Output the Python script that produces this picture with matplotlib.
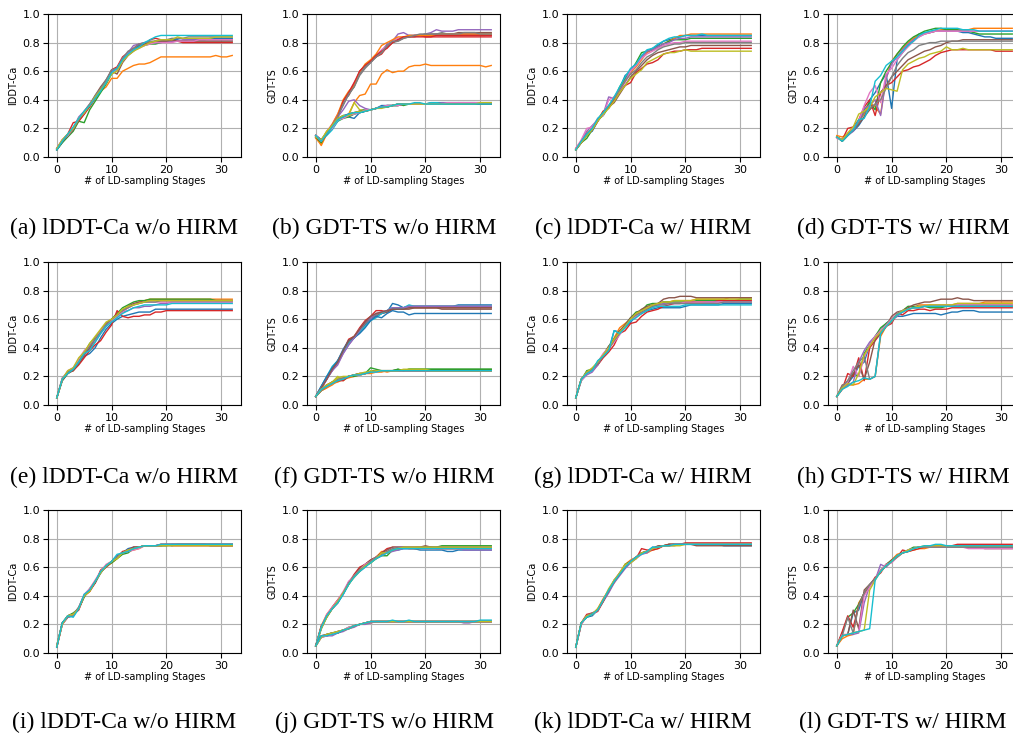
import matplotlib
matplotlib.use('Agg')
from matplotlib import pyplot as plt
import numpy as np

stages = list(range(33))

# (a) lDDT-Ca w/o HIRM, values in hundredths
lddt_wo_a = [
    [5,10,15,20,27,30,36,42,46,52,60,62,68,72,75,78,79,80,81,81,82,82,82,81,82,82,82,82,83,83,83,83,83],
    [6,11,15,20,25,30,36,41,46,49,55,55,60,62,64,65,65,66,68,70,70,70,70,70,70,70,70,70,70,71,70,70,71],
    [5,10,14,18,25,24,33,39,45,51,58,61,68,72,75,77,78,79,79,80,81,81,81,81,81,81,82,82,82,82,82,82,82],
    [6,12,16,24,25,30,35,41,47,53,61,63,70,73,76,79,78,82,83,82,82,81,81,80,80,80,80,80,80,80,80,80,80],
    [6,11,15,20,28,32,37,42,48,53,60,62,69,73,78,79,80,80,80,80,81,81,81,82,82,82,82,82,82,82,82,82,82],
    [5,11,15,19,26,31,36,43,49,54,60,58,66,71,74,77,79,80,81,81,81,82,81,81,81,81,81,81,81,81,81,81,81],
    [6,12,15,20,27,31,37,42,47,52,59,61,67,72,75,76,78,79,80,80,80,80,81,81,81,81,82,82,82,82,82,82,82],
    [5,11,16,20,26,32,37,43,48,54,61,62,69,74,76,79,80,81,81,82,82,83,83,83,84,84,84,84,84,84,84,84,84],
    [6,12,16,20,27,31,36,42,47,52,58,60,67,71,74,76,78,80,81,82,82,82,84,83,83,83,83,83,83,84,84,84,84],
    [5,11,16,21,27,32,36,41,46,52,59,62,68,72,75,77,80,82,84,85,85,85,85,85,85,85,85,85,85,85,85,85,85],
]

# (b) GDT-TS w/o HIRM
gdt_wo_b = [
    [15,12,16,20,26,28,28,27,31,32,33,34,35,35,36,36,37,37,37,37,37,38,38,38,38,38,38,37,37,37,37,37,37],
    [14,8,16,22,27,28,30,38,43,44,51,51,58,61,59,60,60,63,64,64,65,64,64,64,64,64,64,64,64,64,64,63,64],
    [14,10,17,20,25,27,28,30,31,32,33,34,35,35,36,37,36,37,37,37,37,37,37,37,37,37,37,38,38,38,38,38,38],
    [15,11,16,22,29,38,45,50,60,64,67,70,72,77,80,82,84,84,85,85,84,84,84,84,84,84,84,84,84,84,84,84,84],
    [14,11,17,21,28,37,44,51,58,63,67,71,74,79,81,86,87,85,85,85,86,87,89,88,88,88,89,89,89,89,89,89,89],
    [15,12,16,22,29,39,43,50,59,64,67,70,73,78,80,82,83,85,85,85,85,86,86,86,86,86,87,87,87,87,87,87,87],
    [14,11,18,23,30,38,45,52,58,63,66,71,75,78,81,83,84,84,85,85,85,85,85,85,86,86,86,86,86,86,86,85,85],
    [15,12,17,21,29,36,44,49,57,62,66,70,73,77,80,81,83,84,84,85,86,85,86,87,86,86,86,86,86,86,86,86,86],
    [15,11,18,21,26,28,29,38,33,33,33,34,35,36,36,37,37,37,37,37,37,37,37,37,37,37,37,37,37,37,37,37,37],
    [14,12,15,19,25,28,30,31,32,33,33,34,35,36,36,37,37,37,37,37,37,38,38,38,38,38,38,38,38,38,37,37,37],
    [15,11,16,21,27,29,30,31,31,32,33,34,36,36,36,37,37,37,37,37,37,37,37,38,37,37,37,37,37,37,37,37,37],
    [13,9,17,23,30,40,46,50,59,65,68,72,78,80,82,84,84,85,85,85,85,85,85,86,86,86,86,86,86,86,86,86,86],
    [14,10,17,21,27,28,29,30,32,33,33,34,35,35,36,36,37,37,37,37,37,37,37,37,37,37,37,37,37,37,37,37,37],
    [15,11,16,22,28,39,45,52,60,64,67,71,74,76,80,82,84,84,84,84,84,84,85,85,85,85,85,85,85,85,85,85,85],
    [15,12,17,22,28,33,39,40,36,34,33,34,35,36,36,37,37,37,37,37,37,37,37,38,38,38,38,38,38,38,38,38,38],
    [14,11,16,21,27,28,30,31,32,32,33,34,35,35,36,36,37,37,37,37,37,37,37,37,37,37,38,38,37,37,37,37,37],
    [15,11,17,20,26,27,29,30,31,33,33,34,35,36,36,36,37,37,37,37,37,37,37,37,38,38,38,38,38,38,38,38,38],
    [14,12,17,22,28,37,44,49,58,63,66,70,73,78,81,81,83,84,85,86,86,86,86,86,86,86,86,87,87,87,86,86,86],
    [14,12,18,22,27,29,29,31,32,32,33,34,34,35,36,37,37,37,37,37,37,37,37,37,37,37,37,37,37,37,38,38,38],
    [15,11,16,21,26,28,30,31,31,32,33,34,35,35,36,37,37,37,38,38,37,37,37,37,37,37,37,37,37,37,37,37,37],
]

# (c) lDDT-Ca w/ HIRM
lddt_w_c = [
    [5,10,16,18,25,30,35,41,48,57,60,64,70,74,76,78,81,82,83,84,85,85,85,85,85,85,85,85,85,85,85,85,85],
    [6,11,17,20,26,32,35,42,47,54,59,63,68,73,75,77,79,81,83,85,85,86,86,86,86,86,86,86,86,86,86,86,86],
    [5,10,13,19,26,29,35,40,49,55,60,66,73,74,75,77,79,81,82,82,82,83,83,83,83,83,83,83,83,83,83,83,83],
    [5,10,16,19,25,32,34,40,46,50,52,59,62,65,66,68,72,73,74,74,75,75,75,76,76,76,76,76,76,76,76,76,76],
    [6,11,18,22,26,30,42,41,46,53,61,65,70,74,75,77,79,80,82,83,83,84,84,84,84,84,84,84,84,84,84,84,84],
    [5,10,15,19,25,31,35,38,44,50,56,60,64,68,71,73,74,75,76,77,77,78,78,78,78,78,78,78,78,78,78,78,78],
    [6,12,20,21,27,29,40,42,47,52,60,64,69,72,74,76,78,79,80,80,81,81,81,81,81,81,81,81,81,81,81,81,81],
    [5,11,16,20,26,31,36,41,47,53,58,61,66,70,72,75,77,78,79,79,80,80,80,80,80,80,80,80,80,80,80,80,80],
    [5,10,15,19,25,30,34,39,45,50,55,58,61,66,68,70,72,73,73,74,75,74,74,74,74,74,74,74,74,74,74,74,74],
    [5,11,16,20,27,31,36,42,49,56,62,65,71,75,76,79,81,83,84,84,85,85,85,86,85,85,85,85,85,85,85,85,85],
]

# (d) GDT-TS w/ HIRM
gdt_w_d = [
    [14,12,16,18,22,28,40,45,52,58,34,68,73,78,82,86,87,87,88,88,88,88,88,87,87,86,85,84,84,83,83,83,83],
    [15,14,16,20,25,30,38,35,30,55,67,72,76,80,83,85,86,87,88,89,89,89,89,89,89,90,90,90,90,90,90,90,90],
    [14,11,15,19,24,33,38,33,52,60,66,72,77,81,84,86,88,89,90,90,89,89,89,88,88,87,86,86,86,86,86,86,86],
    [14,12,20,21,26,35,40,29,45,50,52,56,60,61,63,64,66,68,71,73,74,75,75,75,75,75,75,75,75,74,74,74,74],
    [14,12,15,18,24,34,36,40,29,55,65,70,75,79,82,84,86,87,88,88,88,88,88,88,88,88,88,88,88,88,88,88,88],
    [14,11,15,19,23,28,33,37,45,50,56,60,64,68,70,72,74,75,77,78,80,81,81,82,82,82,82,82,82,82,82,82,82],
    [13,12,16,20,25,36,45,50,38,58,62,68,73,77,81,84,86,87,88,88,88,88,88,88,88,88,88,88,88,88,88,88,88],
    [14,12,16,19,24,31,34,37,40,48,56,64,69,73,75,78,79,80,80,81,81,81,81,81,81,81,81,81,81,81,81,81,81],
    [14,12,17,21,30,32,35,42,45,48,47,46,61,65,67,69,70,72,73,74,77,75,75,76,75,75,75,75,75,75,75,75,75],
    [14,11,15,19,26,27,35,53,57,64,67,70,74,78,81,85,87,88,89,90,90,90,90,89,89,89,88,88,88,88,88,88,88],
]

# (e) lDDT-Ca w/o HIRM
lddt_wo_e = [
    [5,18,22,25,29,34,36,40,47,53,57,60,62,63,64,65,65,65,67,67,67,67,67,67,67,67,67,67,67,67,67,67,67],
    [5,18,23,24,31,37,42,47,52,57,60,63,66,68,70,72,73,74,74,74,74,74,74,74,74,74,74,74,74,74,74,74,74],
    [5,17,22,25,30,36,43,47,51,56,60,64,68,70,72,73,73,74,74,74,74,74,74,74,74,74,74,74,74,73,73,73,73],
    [5,18,23,24,28,33,38,42,45,51,56,66,62,61,62,62,63,63,65,65,66,66,66,66,66,66,66,66,66,66,66,66,66],
    [5,19,23,26,30,35,39,44,50,55,59,62,65,66,68,68,69,69,70,71,71,72,72,72,72,72,72,72,72,72,72,72,72],
    [5,17,22,24,29,35,40,46,52,57,60,63,66,69,71,72,72,73,73,73,73,73,73,73,73,73,73,73,73,73,73,73,73],
    [5,18,24,26,32,38,42,46,52,56,59,62,65,68,70,71,72,72,72,72,72,72,72,72,72,72,72,72,72,72,72,72,72],
    [5,18,23,25,30,36,41,46,51,56,60,63,66,68,70,71,72,72,72,73,73,73,73,73,73,73,73,73,73,73,73,73,73],
    [5,18,24,26,33,37,43,48,53,58,60,63,67,69,70,71,72,73,73,73,73,73,73,73,73,73,73,73,73,73,73,73,73],
    [5,18,22,25,30,36,38,44,50,55,58,61,64,66,68,69,70,70,70,70,70,71,71,71,71,71,71,71,71,71,71,71,71],
]

# (f) GDT-TS w/o HIRM
gdt_wo_f = [
    [6,13,19,26,30,37,44,47,52,56,60,62,64,65,71,70,68,69,69,69,69,69,69,69,69,69,70,70,70,70,70,70,70],
    [6,10,12,15,16,18,19,20,21,22,22,23,23,24,24,24,24,24,24,24,24,24,24,24,24,24,24,24,24,24,24,24,24],
    [6,10,13,15,17,18,20,20,21,22,26,25,24,24,24,25,24,25,25,25,25,25,25,25,25,25,25,25,25,25,25,25,25],
    [6,12,19,24,30,38,46,48,54,59,62,66,66,65,67,68,68,68,68,68,68,68,68,68,68,68,68,68,68,68,68,68,68],
    [6,11,18,24,28,36,42,47,53,57,60,63,64,66,67,68,68,69,69,69,69,69,69,69,69,69,69,69,69,69,69,69,69],
    [6,12,18,25,31,38,43,47,52,57,61,63,64,65,67,67,67,68,68,68,68,68,68,67,67,67,67,67,67,67,67,67,67],
    [6,11,13,16,18,18,20,21,22,22,23,24,24,24,24,24,24,24,24,24,24,24,24,24,24,24,24,24,24,24,24,24,24],
    [6,12,19,25,30,37,44,48,52,57,61,63,65,66,68,68,68,69,69,69,69,69,69,69,69,69,69,69,69,69,69,69,69],
    [6,11,14,16,20,17,20,21,21,22,24,24,24,24,24,24,24,24,24,24,24,24,24,24,24,24,24,24,24,24,24,24,24],
    [6,13,20,27,31,37,43,47,51,55,59,61,64,66,68,67,68,70,69,69,69,69,69,69,69,69,69,69,69,69,69,69,69],
    [6,13,20,26,31,39,45,47,50,54,59,62,61,64,66,65,65,63,64,64,64,64,64,64,64,64,64,64,64,64,64,64,64],
    [6,10,12,14,17,18,20,21,21,22,23,23,24,23,24,24,24,24,24,24,24,24,24,24,24,24,24,24,24,24,24,24,24],
    [6,11,13,16,18,19,20,21,22,22,23,24,24,24,24,25,24,25,25,25,25,25,25,25,25,25,25,25,25,25,25,25,25],
    [6,11,14,16,17,17,20,21,22,22,23,24,24,24,24,24,24,24,24,24,24,24,24,24,24,24,24,24,24,24,24,24,24],
    [6,12,18,24,29,36,42,47,52,58,61,64,65,66,68,68,68,69,69,69,69,69,69,69,69,69,69,69,69,69,69,69,69],
    [6,12,18,25,30,38,45,48,53,58,62,64,65,66,67,67,67,67,68,68,68,68,68,68,68,68,68,68,68,68,68,68,68],
    [6,11,13,15,18,19,20,21,21,22,23,23,24,24,24,24,24,24,24,24,24,24,24,24,24,24,24,24,24,24,24,24,24],
    [6,10,13,15,18,19,20,21,22,22,23,24,24,24,24,24,24,24,24,24,24,24,24,24,24,24,24,24,24,24,24,24,24],
    [6,11,14,16,19,20,20,21,22,23,23,24,24,24,24,24,25,25,25,25,25,24,24,24,24,24,24,24,24,24,24,24,24],
    [6,11,13,15,17,18,20,21,21,22,23,23,24,24,24,24,24,24,24,24,24,24,24,24,24,24,24,24,24,24,24,24,24],
]

# (g) lDDT-Ca w/ HIRM
lddt_w_g = [
    [5,18,22,25,28,34,38,52,51,54,58,62,64,66,67,68,68,68,68,68,69,70,70,70,70,70,70,71,71,71,71,71,71],
    [5,18,22,25,29,35,40,47,54,57,60,64,66,68,70,71,72,72,73,73,73,73,74,74,74,74,74,74,75,75,75,75,75],
    [5,17,24,25,30,35,41,46,51,56,61,65,66,70,71,71,72,72,72,72,72,72,73,73,73,73,73,73,73,73,74,74,74],
    [5,18,22,24,28,33,37,42,50,52,57,58,62,65,66,67,69,70,71,71,72,72,72,72,72,72,73,73,73,73,73,73,73],
    [5,17,21,23,28,35,39,45,50,55,59,62,64,67,69,70,71,71,71,71,71,71,71,71,72,72,72,72,72,72,72,72,72],
    [5,18,23,25,29,35,41,46,52,56,61,64,67,69,70,71,74,75,75,76,76,76,75,75,75,75,75,75,75,75,75,75,75],
    [5,17,22,24,30,36,40,44,49,55,59,62,65,67,69,70,70,71,71,71,72,72,72,72,72,72,72,72,72,72,72,72,72],
    [5,18,23,25,29,34,39,45,50,55,60,63,65,67,69,70,70,71,71,71,71,71,71,71,71,71,71,72,72,72,72,72,72],
    [5,18,23,26,30,35,40,46,51,55,60,64,66,68,70,71,72,72,73,73,73,73,74,74,74,74,74,74,74,74,74,74,74],
    [5,18,22,24,31,34,38,52,50,54,59,61,64,66,68,69,69,69,69,69,70,70,70,70,70,70,70,70,70,70,70,70,70],
]

# (h) GDT-TS w/ HIRM
gdt_w_h = [
    [6,12,15,20,27,30,42,48,52,57,60,62,62,63,64,64,64,64,64,63,64,65,65,66,66,66,65,65,65,65,65,65,65],
    [6,11,14,14,15,18,18,20,48,55,60,63,65,67,68,70,70,70,70,70,70,70,71,71,71,71,71,72,72,72,72,72,72],
    [6,12,17,22,20,36,42,48,54,57,60,63,66,69,69,69,69,68,68,68,69,69,69,70,70,70,70,70,70,70,70,70,70],
    [6,11,22,20,33,17,40,45,50,55,57,64,63,66,66,67,67,66,67,67,67,68,68,68,68,68,68,68,68,68,68,68,68],
    [6,12,14,16,30,38,44,48,52,55,59,62,65,67,68,68,69,69,69,69,69,69,70,70,70,70,70,70,70,70,70,70,70],
    [6,14,15,22,28,18,30,46,50,55,62,65,66,68,70,71,72,72,73,74,74,74,75,74,74,73,73,73,73,73,73,73,73],
    [6,12,16,27,20,33,42,48,52,56,60,64,66,67,68,69,69,69,70,70,70,70,70,70,70,70,70,70,70,70,70,70,70],
    [6,13,17,24,30,34,18,20,50,55,58,64,66,67,68,68,69,69,69,69,69,69,69,69,69,69,69,69,69,69,69,69,69],
    [6,12,15,14,22,35,41,47,51,55,59,63,66,67,68,69,69,70,70,70,70,70,71,71,71,71,71,71,71,71,71,71,71],
    [6,11,13,16,17,19,18,20,50,55,59,63,65,67,68,68,69,69,69,69,69,69,69,69,69,69,69,69,69,69,69,69,69],
]

# (i) lDDT-Ca w/o HIRM
lddt_wo_i = [
    [5,21,25,26,31,40,44,49,56,61,64,68,70,73,74,74,75,75,75,75,76,76,76,76,76,76,76,76,76,76,76,76,76],
    [4,20,26,27,31,40,43,50,57,60,63,66,70,71,72,73,75,75,75,76,76,76,76,76,76,76,76,76,76,76,76,76,76],
    [5,21,26,28,31,39,45,50,56,61,63,66,69,70,73,74,75,75,75,75,75,76,76,76,76,76,76,76,76,76,76,76,76],
    [4,20,25,27,30,40,43,49,58,61,64,67,71,72,74,74,75,75,75,76,76,75,75,75,75,75,75,75,75,75,75,75,75],
    [5,20,25,26,32,41,44,50,56,61,64,67,70,72,73,74,75,75,75,76,76,76,76,76,76,76,76,76,76,76,76,76,76],
    [4,21,26,27,31,40,44,49,57,60,64,67,70,71,74,74,75,75,75,75,76,76,76,76,76,76,76,76,75,75,75,75,75],
    [5,20,26,27,31,41,45,51,57,62,64,67,70,71,72,73,75,75,75,75,76,76,76,76,76,76,76,76,76,76,76,76,76],
    [4,21,25,27,32,40,44,50,56,61,64,67,70,72,73,74,75,75,75,75,75,75,76,76,76,76,76,76,76,76,76,76,76],
    [5,20,26,27,31,40,43,50,56,61,64,66,70,72,73,74,75,75,75,75,75,75,75,75,75,75,75,75,75,75,75,75,75],
    [4,21,26,25,31,41,44,50,57,61,64,69,70,71,73,74,75,75,75,76,76,76,76,76,76,76,76,76,76,76,76,76,76],
]

# (j) GDT-TS w/o HIRM
gdt_wo_j = [
    [5,18,26,31,35,41,48,54,57,61,64,66,69,70,72,72,73,73,73,72,72,72,72,72,71,71,72,72,72,72,72,72,72],
    [5,19,27,32,37,42,49,53,58,61,64,67,71,71,73,73,74,74,74,74,73,73,73,73,73,73,73,73,73,73,73,73,73],
    [5,17,25,31,36,42,48,54,59,61,63,66,68,68,72,74,74,74,73,73,74,74,74,75,75,75,75,75,75,75,75,75,75],
    [5,18,26,32,37,42,49,55,60,62,65,67,70,73,74,74,74,73,73,73,74,74,73,73,73,73,73,73,73,73,73,73,73],
    [5,17,26,31,36,41,50,53,57,60,64,66,68,70,71,72,73,73,73,73,73,73,73,73,73,73,73,72,72,72,72,72,72],
    [5,19,25,31,35,42,48,54,59,62,65,67,70,72,74,74,74,74,74,74,75,74,74,74,74,74,74,74,74,74,74,74,74],
    [5,18,27,32,37,43,50,54,58,62,64,67,69,71,73,74,74,74,74,73,73,73,73,73,73,73,73,73,73,73,73,73,73],
    [5,18,26,31,36,42,49,54,58,61,64,67,69,71,73,74,74,74,74,74,74,74,74,74,74,74,74,74,74,74,74,74,74],
    [5,17,25,31,36,42,48,53,57,61,63,66,70,70,72,73,74,74,74,74,74,74,74,74,74,74,74,74,74,74,74,74,74],
    [5,18,26,31,35,41,48,53,57,60,63,66,68,70,72,73,73,73,73,73,73,73,73,73,73,73,73,73,73,73,73,73,73],
    [5,12,12,14,14,16,17,19,20,21,22,22,22,22,22,22,22,22,22,22,22,22,22,22,22,22,22,22,22,22,22,22,22],
    [5,11,12,13,15,16,17,19,20,21,21,22,22,22,22,22,22,22,22,22,22,22,22,22,22,22,22,22,22,22,22,22,22],
    [5,11,13,14,15,16,18,19,20,21,22,22,22,22,22,22,22,22,22,22,22,22,22,22,22,22,22,22,22,22,22,22,22],
    [5,12,12,13,14,16,17,19,20,21,22,22,22,22,22,22,22,22,22,22,22,22,22,22,22,22,22,22,22,22,22,22,22],
    [5,11,12,12,14,15,17,18,20,20,21,22,22,22,22,22,22,22,22,22,22,22,22,22,22,22,22,21,21,22,22,22,22],
    [5,12,13,14,14,16,17,19,20,21,22,22,22,22,22,22,22,22,22,22,22,22,22,22,22,22,22,22,22,22,22,22,22],
    [5,11,12,13,15,16,18,19,20,21,22,22,22,22,22,22,22,22,22,22,22,22,22,22,22,22,22,22,22,22,22,22,22],
    [5,12,13,14,15,16,17,19,20,21,22,22,22,22,22,22,22,22,22,22,22,22,22,22,22,22,22,22,22,22,22,22,22],
    [5,11,13,14,15,16,17,19,20,21,22,22,22,22,22,22,22,22,22,22,22,22,22,22,22,22,22,22,22,22,22,22,22],
    [5,12,12,13,14,16,17,19,20,21,22,22,22,22,23,22,22,23,22,22,22,22,22,22,22,22,22,22,22,22,23,23,23],
]

# (k) lDDT-Ca w/ HIRM
lddt_w_k = [
    [4,21,25,26,30,37,43,50,55,61,64,67,70,71,74,74,75,75,76,76,76,76,76,76,76,76,76,75,75,75,75,75,75],
    [4,20,26,27,31,38,44,49,56,62,65,67,70,70,72,73,75,75,76,76,76,76,76,76,76,76,76,76,76,76,76,76,76],
    [4,21,25,27,30,37,43,51,55,62,64,67,70,71,73,74,75,76,76,76,76,76,76,76,76,76,76,76,76,76,76,76,76],
    [4,21,27,28,29,36,43,50,55,60,64,66,73,72,72,73,75,76,76,76,77,77,77,77,77,77,77,77,77,77,77,77,77],
    [4,20,26,27,30,36,42,49,54,59,63,66,69,70,73,74,75,75,76,76,76,76,76,76,76,76,76,76,76,76,76,76,76],
    [4,21,26,27,30,36,44,50,55,60,64,67,70,71,73,75,75,76,76,76,76,76,75,75,75,75,75,75,75,75,75,75,75],
    [4,20,26,27,30,37,44,51,56,61,64,67,69,71,73,74,75,75,76,76,76,76,76,76,76,76,76,76,76,76,76,76,76],
    [4,21,26,28,30,37,43,50,56,60,64,67,70,71,73,74,75,75,75,76,76,76,76,76,76,76,76,76,76,76,76,76,76],
    [4,21,26,27,31,37,45,51,56,62,63,66,70,71,73,74,75,75,75,75,76,76,76,76,76,76,76,76,76,76,76,76,76],
    [4,21,25,27,30,37,44,50,55,60,64,67,69,71,74,74,75,75,76,76,76,76,76,76,76,76,76,76,76,76,76,76,76],
]

# (l) GDT-TS w/ HIRM
gdt_w_l = [
    [5,12,13,28,30,42,47,52,57,61,64,68,70,71,73,74,74,75,75,75,74,74,74,74,74,74,74,74,74,74,74,74,74],
    [5,10,12,13,35,41,47,52,57,61,65,69,70,71,72,73,73,74,74,74,74,74,74,74,74,74,74,74,74,74,74,74,74],
    [5,14,25,28,34,42,47,52,58,62,65,67,70,72,74,74,74,74,74,74,74,74,74,74,74,74,74,74,74,74,74,74,74],
    [5,15,26,18,33,42,47,53,56,62,64,67,72,71,72,73,74,75,75,75,75,75,76,76,76,76,76,76,76,76,76,76,76],
    [5,12,13,13,14,35,47,51,62,60,64,68,70,72,73,74,74,74,74,74,74,74,74,74,74,74,74,74,74,74,74,74,74],
    [5,12,13,30,17,44,48,52,57,61,65,68,70,71,73,74,74,74,74,74,74,74,74,74,74,74,74,73,73,73,73,73,73],
    [5,13,13,14,15,40,46,52,58,62,63,67,70,72,73,74,74,74,74,74,74,74,74,74,73,73,73,73,73,73,73,73,73],
    [5,12,25,14,33,42,48,52,57,61,64,67,70,71,73,74,74,74,74,74,74,74,74,74,74,74,74,74,74,74,74,74,74],
    [5,12,13,14,15,16,44,51,57,61,64,68,70,72,73,74,75,75,75,75,75,75,75,75,75,75,75,75,75,75,75,75,75],
    [5,12,13,14,15,16,17,51,57,61,64,68,70,71,73,74,75,75,76,76,75,75,75,75,75,75,75,75,75,75,75,75,75],
]

panels = [lddt_wo_a, gdt_wo_b, lddt_w_c, gdt_w_d,
          lddt_wo_e, gdt_wo_f, lddt_w_g, gdt_w_h,
          lddt_wo_i, gdt_wo_j, lddt_w_k, gdt_w_l]
ylabels = ['lDDT-Ca', 'GDT-TS', 'lDDT-Ca', 'GDT-TS'] * 3
captions = ['(a) lDDT-Ca w/o HIRM', '(b) GDT-TS w/o HIRM', '(c) lDDT-Ca w/ HIRM', '(d) GDT-TS w/ HIRM',
            '(e) lDDT-Ca w/o HIRM', '(f) GDT-TS w/o HIRM', '(g) lDDT-Ca w/ HIRM', '(h) GDT-TS w/ HIRM',
            '(i) lDDT-Ca w/o HIRM', '(j) GDT-TS w/o HIRM', '(k) lDDT-Ca w/ HIRM', '(l) GDT-TS w/ HIRM']

W, H = 1013, 733
fig = plt.figure(figsize=(W / 100, H / 100), dpi=100)

col_left = [48, 307, 567, 828]
row_top = [14, 262, 510]
ax_w, ax_h = 193, 143
cap_x = [124, 384, 643, 903]
cap_y = [228, 477, 722]

for i, runs in enumerate(panels):
    r, c = divmod(i, 4)
    ax = fig.add_axes([col_left[c] / W, 1 - (row_top[r] + ax_h) / H, ax_w / W, ax_h / H])
    for run in runs:
        ax.plot(stages, np.array(run) / 100, lw=1.0)
    ax.set_ylim(0, 1)
    ax.set_yticks([0, 0.2, 0.4, 0.6, 0.8, 1.0])
    ax.set_xticks([0, 10, 20, 30])
    ax.grid(True, color='#b0b0b0', lw=0.8)
    ax.tick_params(labelsize=8, length=3.5, width=0.8, pad=2)
    ax.set_xlabel('# of LD-sampling Stages', fontsize=7, labelpad=1)
    ax.set_ylabel(ylabels[i], fontsize=7, labelpad=3)
    fig.text(cap_x[c] / W, 1 - cap_y[r] / H, captions[i], ha='center', va='center',
             fontsize=17, family='Liberation Serif')

fig.savefig('out.png', dpi=100)
